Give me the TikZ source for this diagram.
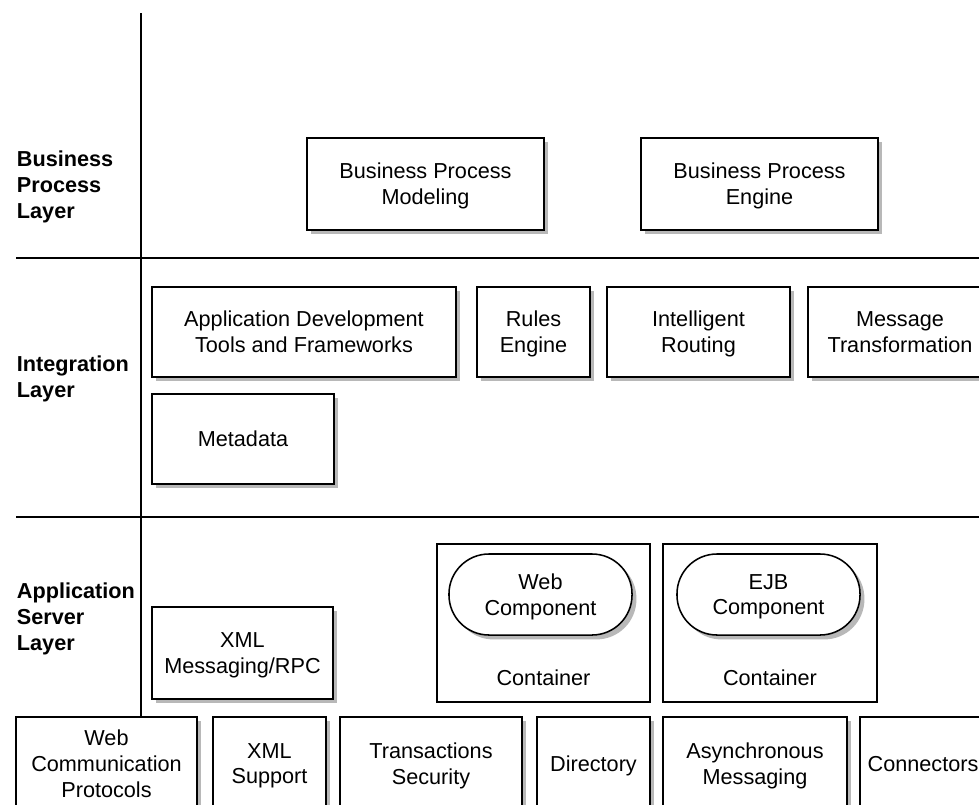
\documentclass[tikz,border=0pt]{standalone}
\usepackage{fontspec}
\setmainfont{Liberation Sans}
\usetikzlibrary{shadows}
\tikzset{
  layerbox/.style={draw, line width=1.1pt, fill=white, align=center, text depth=-2.3pt,
    drop shadow={shadow xshift=0.11cm, shadow yshift=-0.11cm, fill=black!28, opacity=1}},
  pill/.style={layerbox, rounded corners=1cm},
  holder/.style={draw, line width=1.1pt, fill=white},
  layername/.style={anchor=west, align=left, font=\fontsize{15.4pt}{18.4pt}\selectfont\bfseries}
}
\begin{document}
\begin{tikzpicture}[x=0.025cm, y=-0.025cm, font=\fontsize{15.4pt}{18.4pt}\selectfont]
\useasboundingbox (0,0) rectangle (979,804);
\clip (0,0) rectangle (979,804);

\coordinate (vtop) at (141,13);
\coordinate (vbot) at (141,716);
\coordinate (h1l) at (16,258);
\coordinate (h1r) at (979,258);
\coordinate (h2l) at (16,517);
\coordinate (h2r) at (979,517);
\draw[line width=1pt] (vtop) -- (vbot);
\draw[line width=1pt] (h1l) -- (h1r);
\draw[line width=1pt] (h2l) -- (h2r);

\node[layername] (bplayer) at (12,187) {Business\\Process\\Layer};
\node[layername] (intlayer) at (12,379) {Integration\\Layer};
\node[layername] (aslayer) at (12,619) {Application\\Server\\Layer};

\node[layerbox, minimum width=5.925cm, minimum height=2.3cm] (bpm) at (425.5,184) {Business Process\\Modeling};
\node[layerbox, minimum width=5.925cm, minimum height=2.3cm] (bpe) at (759.5,184) {Business Process\\Engine};

\node[layerbox, minimum width=7.6cm, minimum height=2.25cm] (appdev) at (304,332) {Application Development\\Tools and Frameworks};
\node[layerbox, minimum width=2.825cm, minimum height=2.25cm] (rules) at (533.5,332) {Rules\\Engine};
\node[layerbox, minimum width=4.575cm, minimum height=2.25cm] (routing) at (698.5,332) {Intelligent\\Routing};
\node[layerbox, minimum width=4.6cm, minimum height=2.25cm] (transform) at (900,332) {Message\\Transformation};
\node[layerbox, minimum width=4.55cm, minimum height=2.25cm] (metadata) at (243,439) {Metadata};

\node[layerbox, minimum width=4.525cm, minimum height=2.3cm] (xmlrpc) at (242.5,653) {XML\\Messaging/RPC};
\node[holder, minimum width=5.325cm, minimum height=3.95cm] (webcont) at (543.5,623) {};
\node[holder, minimum width=5.35cm, minimum height=3.95cm] (ejbcont) at (770,623) {};
\node[pill, minimum width=4.575cm, minimum height=2.025cm] (webcomp) at (540.5,594.5) {Web\\Component};
\node[pill, minimum width=4.575cm, minimum height=2.025cm] (ejbcomp) at (768.5,594.5) {EJB\\Component};
\node (webcontlabel) at (543.5,678) {Container};
\node (ejbcontlabel) at (770,678) {Container};

\node[layerbox, minimum width=4.525cm, minimum height=2.325cm] (webproto) at (106.5,763.5) {Web\\Communication\\Protocols};
\node[layerbox, minimum width=2.825cm, minimum height=2.325cm] (xmlsupport) at (269.5,763.5) {XML\\Support};
\node[layerbox, minimum width=4.55cm, minimum height=2.325cm] (transsec) at (431,763.5) {Transactions\\Security};
\node[layerbox, minimum width=2.825cm, minimum height=2.325cm] (directory) at (593.5,763.5) {Directory};
\node[layerbox, minimum width=4.6cm, minimum height=2.325cm] (async) at (755,763.5) {Asynchronous\\Messaging};
\node[layerbox, minimum width=3.15cm, minimum height=2.325cm] (connectors) at (923,763.5) {Connectors};

\end{tikzpicture}
\end{document}
